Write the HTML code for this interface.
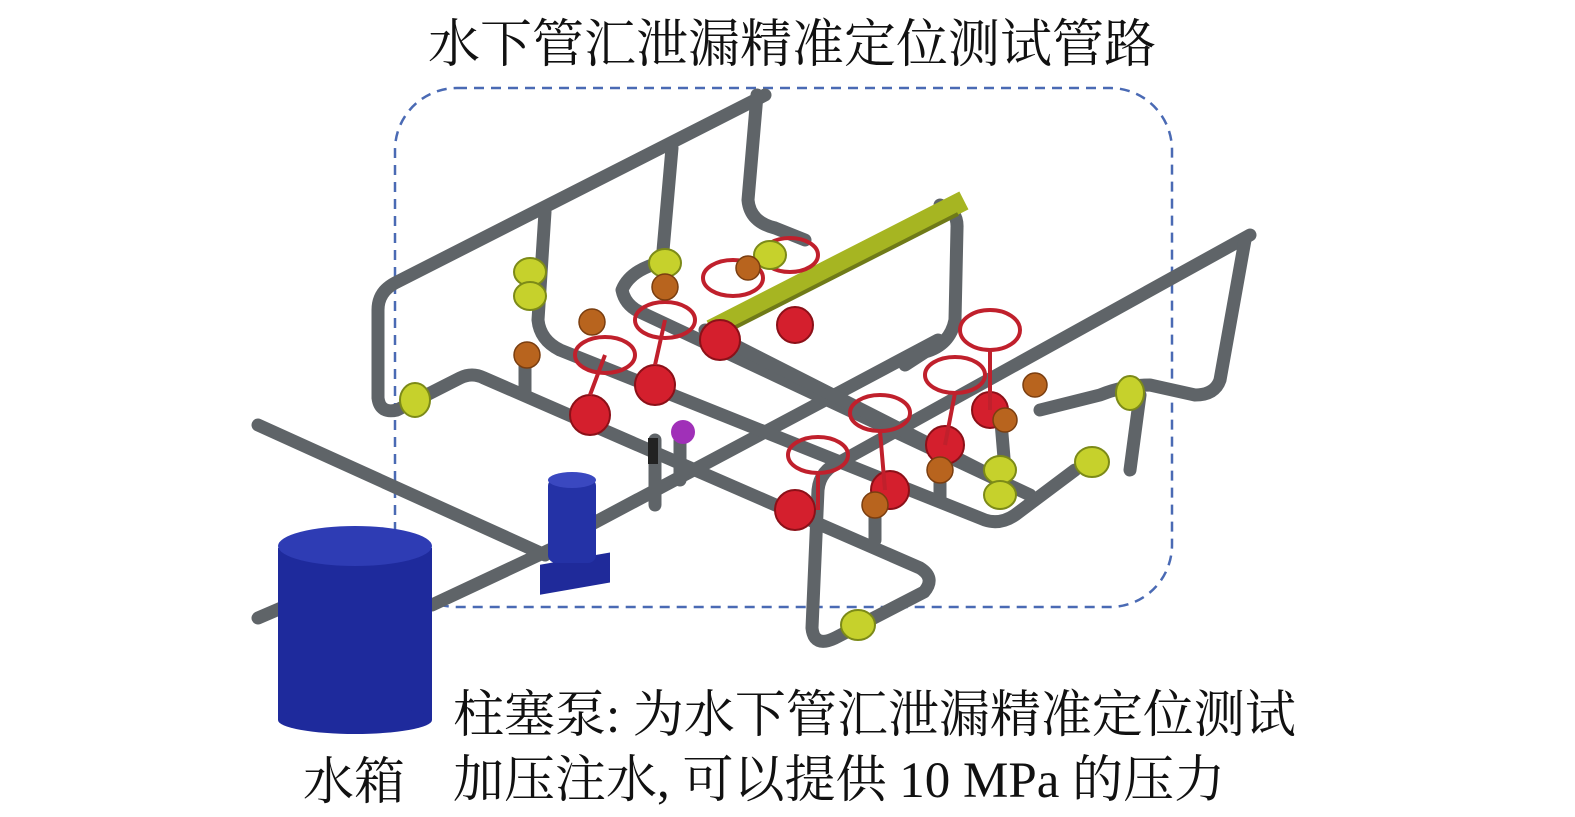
<!DOCTYPE html>
<html><head><meta charset="utf-8"><style>
body{margin:0;background:#fff;width:1575px;height:817px;overflow:hidden;position:relative}
.t{position:absolute;font-family:"Liberation Serif","Noto Serif CJK SC",serif;color:#111;white-space:nowrap}
</style></head><body>
<svg width="1575" height="817" style="position:absolute;left:0;top:0">
<rect x="395" y="88" width="777" height="519" rx="62" fill="none" stroke="#4a6ab4" stroke-width="2.5" stroke-dasharray="10,7"/>
<g fill="none" stroke="#5f6468" stroke-width="13" stroke-linecap="round" stroke-linejoin="round">
<path d="M258,425 L545,555"/>
<path d="M258,618 L300,600"/>
<path d="M432,605 L560,545"/>
<path d="M590,525 L938,340"/>
<path d="M765,95 L395,283 Q378,292 378,310 L378,398 Q380,414 397,410 L460,378 Q472,372 484,378 L920,568 Q936,578 924,592 L835,638 Q814,648 812,628 L818,490 Q820,470 840,462 L1250,235"/>
<path d="M545,212 L538,320 Q540,340 560,350 L985,520 Q1000,525 1015,515 L1075,470"/>
<path d="M672,148 L662,262 Q630,270 622,290 Q625,305 640,312 L1030,495"/>
<path d="M757,95 L748,200 Q750,222 775,228 L805,240"/>
<path d="M940,205 Q958,210 957,228 L955,320 Q950,345 925,352 L905,365"/>
<path d="M705,330 L1000,480"/>
<path d="M1040,410 L1100,395 Q1125,385 1150,385 L1195,395 Q1215,395 1220,380 L1245,240"/>
<path d="M1140,395 L1130,470"/>
<path d="M1000,410 L1005,470"/>
<path d="M655,440 L655,505"/>
<path d="M680,440 L680,480"/>
<path d="M525,360 L525,395"/>
<path d="M875,505 L875,540"/>
<path d="M940,475 L940,500"/>
</g>
<path d="M720,325 L955,205" stroke="#a6b522" stroke-width="20" stroke-linecap="square"/>
<path d="M722,334 L958,214" stroke="#6f7a18" stroke-width="4"/>
<g fill="#d41f2d" stroke="#8c1018" stroke-width="2">
<circle cx="590" cy="415" r="20"/><circle cx="655" cy="385" r="20"/><circle cx="720" cy="340" r="20"/>
<circle cx="795" cy="325" r="18"/><circle cx="795" cy="510" r="20"/><circle cx="890" cy="490" r="19"/>
<circle cx="945" cy="445" r="19"/><circle cx="990" cy="410" r="18"/>
</g>
<g fill="none" stroke="#c0202c" stroke-width="4">
<ellipse cx="605" cy="355" rx="30" ry="18"/><ellipse cx="665" cy="320" rx="30" ry="18"/>
<ellipse cx="733" cy="278" rx="30" ry="18"/><ellipse cx="790" cy="255" rx="28" ry="17"/>
<ellipse cx="818" cy="455" rx="30" ry="18"/><ellipse cx="880" cy="413" rx="30" ry="18"/>
<ellipse cx="955" cy="375" rx="30" ry="18"/><ellipse cx="990" cy="330" rx="30" ry="20"/>
<path d="M590,395 L605,355 M655,365 L665,320 M818,473 L818,510 M880,431 L885,490 M955,393 L945,445 M990,350 L990,410"/>
</g>
<g fill="#c6d12c" stroke="#7c8a18" stroke-width="2">
<ellipse cx="530" cy="272" rx="16" ry="14"/><ellipse cx="530" cy="296" rx="16" ry="14"/>
<ellipse cx="665" cy="263" rx="16" ry="14"/><ellipse cx="415" cy="400" rx="15" ry="17"/>
<ellipse cx="858" cy="625" rx="17" ry="15"/><ellipse cx="1000" cy="470" rx="16" ry="14"/>
<ellipse cx="1000" cy="495" rx="16" ry="14"/><ellipse cx="1092" cy="462" rx="17" ry="15"/>
<ellipse cx="1130" cy="393" rx="14" ry="17"/><ellipse cx="770" cy="255" rx="16" ry="14"/>
</g>
<g fill="#b8641e" stroke="#7a3e10" stroke-width="1.5">
<circle cx="527" cy="355" r="13"/><circle cx="592" cy="322" r="13"/><circle cx="665" cy="287" r="13"/>
<circle cx="748" cy="268" r="12"/><circle cx="875" cy="505" r="13"/><circle cx="940" cy="470" r="13"/>
<circle cx="1035" cy="385" r="12"/><circle cx="1005" cy="420" r="12"/>
</g>
<circle cx="683" cy="432" r="12" fill="#a030b8"/>
<rect x="648" y="438" width="10" height="26" fill="#222"/>
<rect x="540" y="560" width="70" height="30" fill="#1f2a9a" transform="skewY(-10) translate(0,100)"/>
<rect x="548" y="478" width="48" height="85" rx="8" fill="#2432a6"/>
<ellipse cx="572" cy="480" rx="24" ry="8" fill="#3a48c0"/>
<rect x="278" y="548" width="154" height="172" fill="#1e2a9c"/>
<ellipse cx="355" cy="720" rx="77" ry="14" fill="#1e2a9c"/>
<ellipse cx="355" cy="546" rx="77" ry="20" fill="#2e3cb4"/>
</svg>
<div class="t" style="left:428px;top:2px;font-size:52px">水下管汇泄漏精准定位测试管路</div>
<div class="t" style="left:453px;top:673px;font-size:51px">柱塞泵: 为水下管汇泄漏精准定位测试</div>
<div class="t" style="left:453px;top:738px;font-size:51px">加压注水, 可以提供 10 MPa 的压力</div>
<div class="t" style="left:303px;top:740px;font-size:51px">水箱</div>
</body></html>
